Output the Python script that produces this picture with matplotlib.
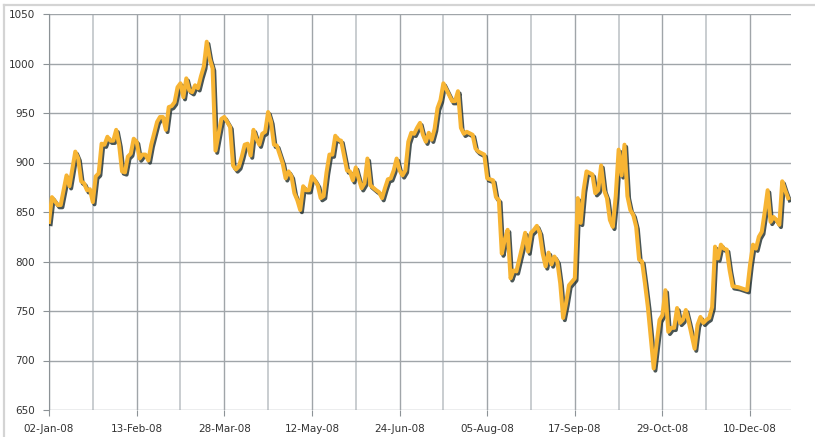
import matplotlib
matplotlib.use("Agg")
import matplotlib.pyplot as plt
import matplotlib.patheffects as pe
from matplotlib.lines import Line2D

# trading-day index and price
day = [0, 1, 3, 4, 6, 7, 9, 10, 11, 12, 13, 14, 15, 16, 17, 18, 19, 20, 21, 22,
       23, 24, 25, 26, 27, 28, 29, 30, 31, 32, 33, 34, 35, 37, 38, 39, 40, 41, 42, 43,
       44, 45, 46, 47, 48, 49, 50, 51, 52, 53, 54, 55, 56, 57, 58, 59, 60, 61, 62, 63,
       64, 65, 66, 67, 68, 69, 70, 71, 72, 73, 74, 75, 76, 77, 78, 79, 80, 81, 82, 83,
       84, 85, 86, 87, 88, 89, 90, 91, 92, 93, 94, 95, 96, 97, 98, 99, 100, 102, 103, 104,
       105, 106, 107, 108, 109, 110, 112, 113, 114, 115, 116, 117, 118, 119, 120, 121, 122, 123, 124, 125,
       126, 127, 128, 129, 130, 131, 132, 133, 134, 135, 137, 138, 139, 140, 141, 142, 143, 145, 146, 147,
       149, 150, 152, 153, 154, 155, 156, 157, 158, 159, 160, 162, 163, 164, 165, 166, 167, 168, 169, 170,
       171, 172, 173, 174, 175, 176, 177, 178, 180, 181, 182, 183, 184, 186, 187, 188, 189, 190, 191, 192,
       193, 194, 195, 196, 197, 198, 199, 200, 201, 202, 203, 204, 205, 207, 208, 209, 210, 211, 212, 213,
       214, 215, 216, 217, 218, 219, 221, 222, 223, 224, 225, 226, 227, 228, 229, 230, 231, 232, 233, 234,
       236, 237, 239, 240, 241, 242, 243, 244, 245, 246, 247, 248, 249, 250, 251, 252, 253]
price = [840, 865, 857, 857, 887, 876, 911, 904, 881, 879, 872, 873, 860, 886, 889, 919, 918, 926, 922, 922,
         933, 918, 891, 890, 906, 909, 924, 921, 904, 908, 908, 902, 918, 941, 946, 946, 933, 956, 957, 961,
         976, 980, 966, 985, 973, 971, 978, 975, 987, 997, 1022, 1005, 995, 912, 928, 944, 946, 941, 936, 897,
         893, 896, 906, 918, 919, 907, 933, 924, 918, 929, 931, 951, 941, 918, 917, 908, 899, 884, 891, 886,
         869, 862, 852, 876, 872, 872, 886, 882, 877, 864, 866, 890, 908, 908, 927, 923, 922, 892, 891, 882,
         895, 884, 874, 879, 904, 877, 872, 870, 864, 874, 883, 884, 892, 904, 892, 887, 892, 921, 930, 929,
         935, 940, 928, 921, 930, 923, 934, 955, 963, 980, 968, 962, 962, 972, 935, 929, 931, 928, 914, 911,
         908, 884, 882, 865, 862, 808, 822, 832, 783, 791, 790, 815, 829, 810, 829, 832, 836, 829, 808, 795,
         809, 797, 805, 800, 778, 743, 758, 776, 783, 864, 839, 872, 891, 888, 869, 872, 897, 872, 864, 842,
         835, 866, 913, 887, 918, 866, 852, 847, 835, 802, 800, 778, 754, 692, 717, 741, 746, 771, 729, 733,
         733, 753, 738, 741, 751, 739, 712, 736, 744, 738, 741, 743, 754, 815, 803, 817, 813, 812, 791, 775,
         774, 773, 771, 797, 817, 813, 825, 830, 850, 872, 840, 845, 842, 837, 881, 872, 864]

tick_days = [0, 30, 60, 90, 120, 150, 180, 210, 240]
tick_labels = ['02-Jan-08', '13-Feb-08', '28-Mar-08', '12-May-08', '24-Jun-08',
               '05-Aug-08', '17-Sep-08', '29-Oct-08', '10-Dec-08']
minor_days = [15, 45, 75, 105, 135, 165, 195, 225]

fig = plt.figure(figsize=(8.15, 4.37), dpi=100)
ax = fig.add_axes([49 / 815, 1 - 410 / 437, (791 - 49) / 815, (410 - 14) / 437])

# chart frame (top and left edges visible)
fig.add_artist(Line2D([4 / 815, 4 / 815], [0, 1 - 5 / 437], transform=fig.transFigure,
                      color='#d4d4d4', lw=1.6))
fig.add_artist(Line2D([4 / 815, 1], [1 - 5 / 437, 1 - 5 / 437], transform=fig.transFigure,
                      color='#d4d4d4', lw=1.6))

ax.plot(day, price, color='#f7b433', lw=2.9, solid_joinstyle='round', zorder=3,
        path_effects=[pe.SimpleLineShadow(offset=(1.2, -1.6), shadow_color='#1c2b2b', alpha=0.8),
                      pe.Normal()])

ax.set_xlim(0, 254)
ax.set_ylim(650, 1050)
ax.set_yticks(range(650, 1051, 50))
ax.set_xticks(tick_days)
ax.set_xticklabels(tick_labels)
ax.set_xticks(minor_days, minor=True)

ax.grid(True, which='major', color='#a0a5a9', lw=1.0)
ax.grid(True, which='minor', axis='x', color='#c9cdd0', lw=1.4)
ax.set_axisbelow(True)

for s in ['top', 'right', 'bottom']:
    ax.spines[s].set_visible(False)
ax.spines['left'].set_color('#8c9296')

ax.tick_params(axis='y', length=4, color='#8c9296', labelsize=7.5, labelcolor='#333333', pad=6)
ax.tick_params(axis='x', which='major', length=4, color='#8c9296', labelsize=7.5,
               labelcolor='#333333', pad=6)
ax.tick_params(axis='x', which='minor', length=0)

fig.savefig('out.png', dpi=100)
